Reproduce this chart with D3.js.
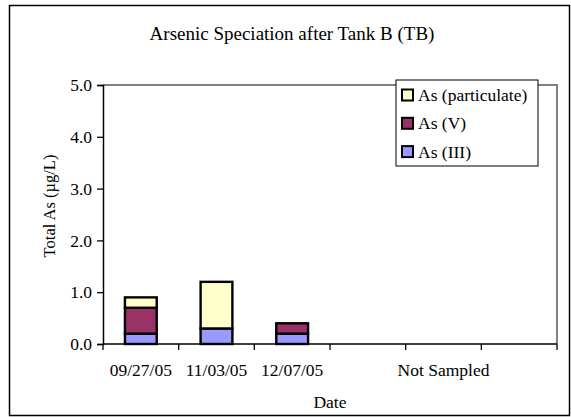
<!DOCTYPE html>
<html lang="en">
<head>
    <meta charset="UTF-8">
    <title>Arsenic Speciation after Tank B (TB)</title>
    <script src="https://cdn.jsdelivr.net/npm/d3@7"></script>
    <style>
        body{margin:0;background:#fff}
        text{font-family:"Liberation Serif","Times New Roman",serif;fill:#000}
    </style>
</head>
<body>
<svg width="571" height="417"></svg>
<script>
    // 数据
    var categories = ["09/27/05", "11/03/05", "12/07/05", "", "Not Sampled", ""];
    var asIII = [0.2, 0.3, 0.2, 0, 0, 0];
    var asV = [0.5, 0, 0.2, 0, 0, 0];
    var asPart = [0.2, 0.9, 0, 0, 0, 0];
    var seriesNames = ["As (III)", "As (V)", "As (particulate)"];
    var seriesColors = ["#9999ff", "#993366", "#ffffcc"];
    var yTicks = [0, 1, 2, 3, 4, 5];

    var svg = d3.select("svg");
    var pLeft = 103, pRight = 557, pTop = 85, pBottom = 344;
    var fs = "17.5px";

    // 外框
    svg.append("rect")
        .attr("x", 9.5).attr("y", 5.5)
        .attr("width", 560).attr("height", 410)
        .attr("fill", "none").attr("stroke", "#000").attr("stroke-width", 1.5);

    var x = d3.scaleBand().domain(d3.range(categories.length))
        .range([pLeft, pRight]).paddingInner(0.58).paddingOuter(0.29);
    var xTick = d3.scaleLinear().domain([0, categories.length]).range([pLeft, pRight]);
    var y = d3.scaleLinear().domain([0, 5]).range([pBottom, pTop]);

    // 绘图区灰色边框（上、右）
    svg.append("path")
        .attr("d", "M" + pLeft + "," + pTop + "H" + pRight + "V" + pBottom)
        .attr("fill", "none").attr("stroke", "#808080").attr("stroke-width", 2);

    // 堆叠数据
    var rows = categories.map(function(c, i){
        return {i: i, "As (III)": asIII[i], "As (V)": asV[i], "As (particulate)": asPart[i]};
    });
    var stacked = d3.stack().keys(seriesNames)(rows);

    svg.append("g").selectAll("g")
        .data(stacked)
        .enter().append("g")
        .attr("fill", function(d, i){ return seriesColors[i]; })
        .selectAll("rect")
        .data(function(d){ return d.filter(function(p){ return p[1] - p[0] > 0; }); })
        .enter().append("rect")
        .attr("x", function(d){ return x(d.data.i); })
        .attr("width", x.bandwidth())
        .attr("y", function(d){ return y(d[1]); })
        .attr("height", function(d){ return y(d[0]) - y(d[1]); })
        .attr("stroke", "#000").attr("stroke-width", 2.4);

    // y 轴
    var yAxis = svg.append("g").attr("transform", "translate(" + pLeft + ",0)")
        .call(d3.axisLeft(y).tickValues(yTicks).tickFormat(d3.format(".1f")).tickSize(6).tickPadding(5));
    yAxis.select(".domain").attr("stroke", "#000").attr("stroke-width", 1.5);
    yAxis.selectAll(".tick line").attr("stroke", "#000").attr("stroke-width", 1.3);
    yAxis.selectAll("text").style("font-size", fs).style("font-family", "Liberation Serif");

    // x 轴
    svg.append("line").attr("x1", pLeft).attr("x2", pRight).attr("y1", pBottom).attr("y2", pBottom)
        .attr("stroke", "#000").attr("stroke-width", 1.5);
    svg.append("g").selectAll("line")
        .data(d3.range(categories.length + 1))
        .enter().append("line")
        .attr("x1", function(d){ return xTick(d); }).attr("x2", function(d){ return xTick(d); })
        .attr("y1", pBottom).attr("y2", pBottom + 6)
        .attr("stroke", "#000").attr("stroke-width", 1.3);

    svg.append("clipPath").attr("id", "lblclip")
        .append("rect").attr("x", 0).attr("y", 0).attr("width", 323).attr("height", 417);
    svg.append("g").selectAll("text")
        .data(categories)
        .enter().append("text")
        .attr("x", function(d, i){ return x(i) + x.bandwidth() / 2; })
        .attr("y", 376)
        .attr("text-anchor", "middle")
        .attr("clip-path", function(d, i){ return i === 2 ? "url(#lblclip)" : null; })
        .style("font-size", fs)
        .text(function(d){ return d; });

    // 标题
    svg.append("text").attr("x", 292).attr("y", 40).attr("text-anchor", "middle")
        .style("font-size", "19px").text("Arsenic Speciation after Tank B (TB)");
    svg.append("text").attr("x", 330).attr("y", 408).attr("text-anchor", "middle")
        .style("font-size", fs).text("Date");
    svg.append("text").attr("transform", "translate(55,206) rotate(-90)")
        .attr("text-anchor", "middle").style("font-size", "16.5px").text("Total As (µg/L)");

    // 图例
    var lg = svg.append("g");
    lg.append("rect").attr("x", 396).attr("y", 80).attr("width", 142).attr("height", 86)
        .attr("fill", "#fff").attr("stroke", "#000").attr("stroke-width", 1);
    var legendOrder = [2, 1, 0];
    var items = lg.selectAll("g.item").data(legendOrder).enter().append("g")
        .attr("transform", function(d, i){ return "translate(402," + (95 + i * 28.3) + ")"; });
    items.append("rect").attr("x", 0).attr("y", -5.5).attr("width", 11).attr("height", 11)
        .attr("fill", function(d){ return seriesColors[d]; })
        .attr("stroke", "#000").attr("stroke-width", 2);
    items.append("text").attr("x", 16).attr("y", 6)
        .style("font-size", fs).text(function(d){ return seriesNames[d]; });
</script>
</body>
</html>
